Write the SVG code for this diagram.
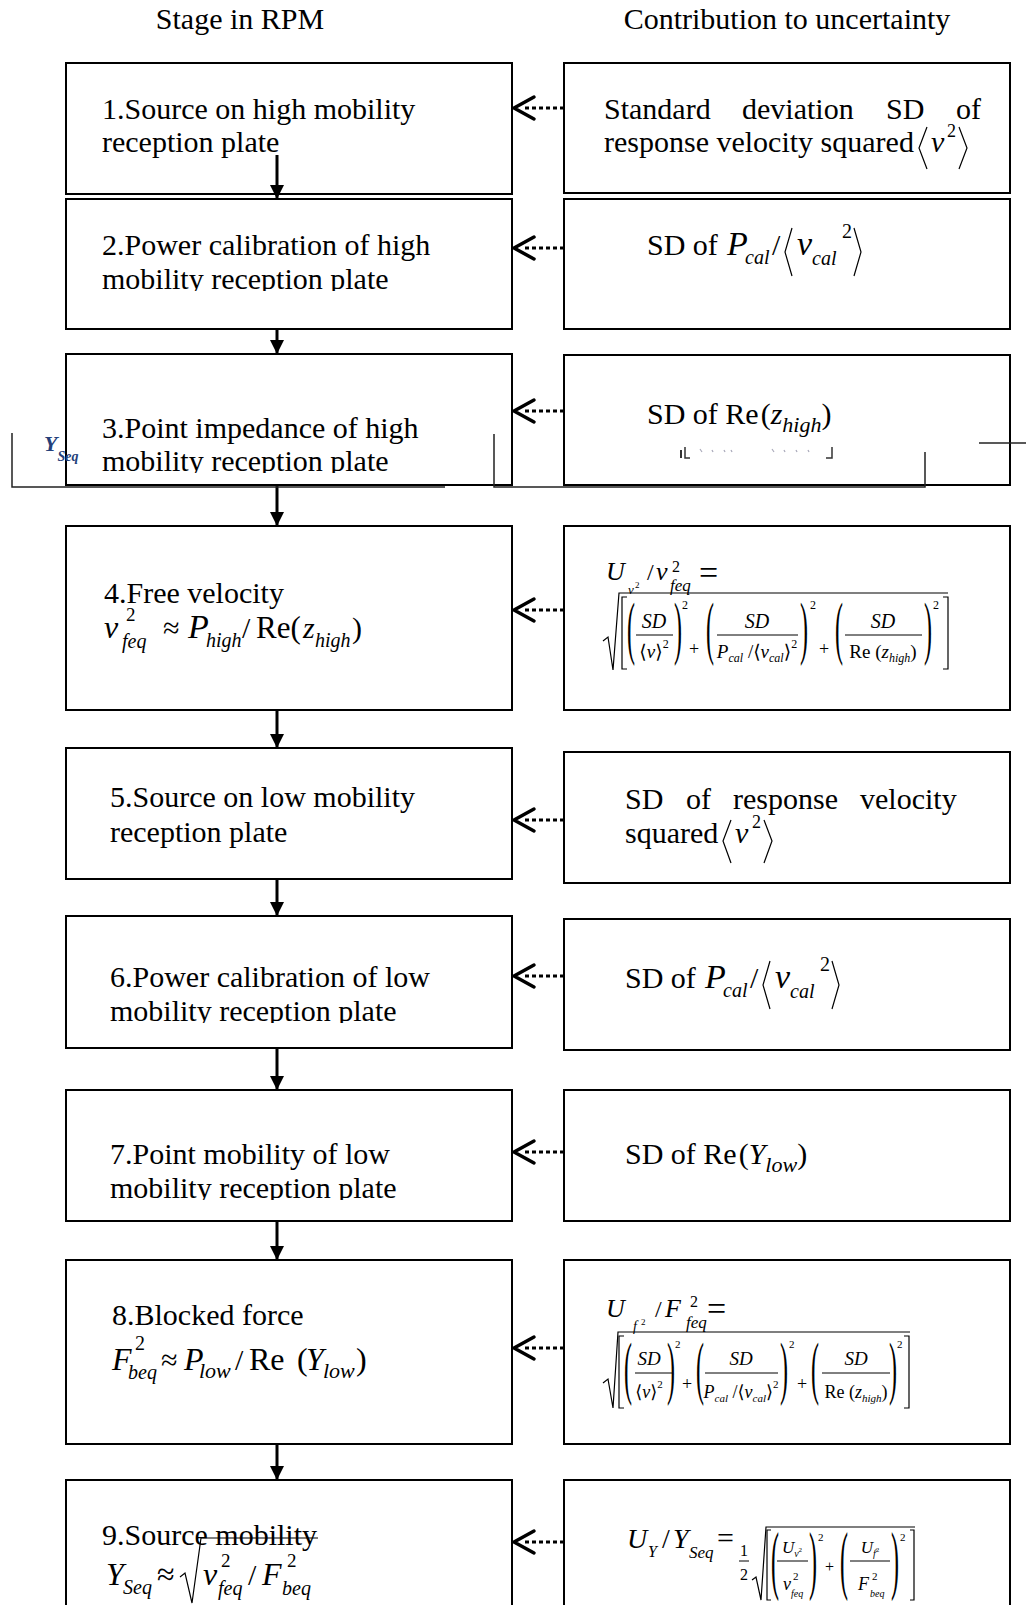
<svg xmlns="http://www.w3.org/2000/svg" width="1026" height="1605" viewBox="0 0 1026 1605">
<defs>
<style>
.box{fill:#fff;stroke:#000;stroke-width:2}
.t{font-family:"Liberation Serif","Times New Roman",serif;fill:#000}
.i{font-style:italic}
.ab{font-family:"DejaVu Serif","DejaVu Sans",serif;font-style:normal}
.d{fill:none;stroke:#000;stroke-width:1.2}
.fl{stroke:#000;stroke-width:1}
.v{stroke:#000;stroke-width:3;marker-end:url(#ah)}
.dot{stroke:#000;stroke-width:3;stroke-dasharray:4 3;marker-end:url(#chev)}
.art{fill:none;stroke:#222;stroke-width:1.5}
</style>
<marker id="ah" markerUnits="userSpaceOnUse" markerWidth="16" markerHeight="14" refX="14" refY="7" orient="auto"><path d="M0,0 L14,7 L0,14 z" fill="#000"/></marker>
<marker id="chev" markerUnits="userSpaceOnUse" markerWidth="30" markerHeight="30" refX="12" refY="15" orient="auto" overflow="visible"><path d="M0,4 L20,15 L0,26" fill="none" stroke="#000" stroke-width="3.5" stroke-linecap="round" stroke-linejoin="round"/></marker>
<clipPath id="c2"><rect x="60" y="262" width="460" height="29"/></clipPath>
<clipPath id="c3"><rect x="60" y="444" width="460" height="29"/></clipPath>
<clipPath id="c6"><rect x="60" y="994" width="460" height="29"/></clipPath>
<clipPath id="c7"><rect x="60" y="1171" width="460" height="29"/></clipPath>
<clipPath id="cy"><rect x="0" y="420" width="82" height="60"/></clipPath>
</defs>
<rect width="1026" height="1605" fill="#fff"/>

<g id="headers">
<text class="t" x="240" y="29" text-anchor="middle" font-size="30">Stage in RPM</text>
<text class="t" x="787" y="29" text-anchor="middle" font-size="30">Contribution to uncertainty</text>
</g>

<g id="stage1"><rect class="box" x="66" y="63" width="446" height="131"/>
<text class="t" x="102" y="119" font-size="30">1.Source on high mobility</text>
<text class="t" x="102" y="152" font-size="30">reception plate</text></g>

<g id="stage2"><rect class="box" x="66" y="199" width="446" height="130"/>
<text class="t" x="102" y="255" font-size="30">2.Power calibration of high</text>
<text class="t" x="102" y="289" font-size="30" clip-path="url(#c2)">mobility reception plate</text></g>

<g id="stage3"><rect class="box" x="66" y="354" width="446" height="131"/>
<text class="t" x="102" y="438" font-size="30">3.Point impedance of high</text>
<text class="t" x="102" y="471" font-size="30" clip-path="url(#c3)">mobility reception plate</text></g>

<g id="stage4"><rect class="box" x="66" y="526" width="446" height="184"/>
<text class="t" x="104" y="603" font-size="30">4.Free velocity</text>
<text class="t i" x="104" y="638" font-size="32">v</text>
<text class="t" x="126" y="621" font-size="19">2</text>
<text class="t i" x="122" y="648" font-size="20">feq</text>
<text class="t" x="163" y="638" font-size="30">≈</text>
<text class="t i" x="188" y="638" font-size="34">P</text>
<text class="t i" x="206" y="647" font-size="20">high</text>
<text class="t" x="242" y="638" font-size="30">/</text>
<text class="t" x="256" y="638" font-size="31">Re(</text>
<text class="t i" x="303" y="638" font-size="30">z</text>
<text class="t i" x="315" y="647" font-size="20">high</text>
<text class="t" x="352" y="638" font-size="30">)</text></g>

<g id="stage5"><rect class="box" x="66" y="748" width="446" height="131"/>
<text class="t" x="110" y="807" font-size="30">5.Source on low mobility</text>
<text class="t" x="110" y="842" font-size="30">reception plate</text></g>

<g id="stage6"><rect class="box" x="66" y="916" width="446" height="132"/>
<text class="t" x="110" y="987" font-size="30">6.Power calibration of low</text>
<text class="t" x="110" y="1021" font-size="30" clip-path="url(#c6)">mobility reception plate</text></g>

<g id="stage7"><rect class="box" x="66" y="1090" width="446" height="131"/>
<text class="t" x="110" y="1164" font-size="30">7.Point mobility of low</text>
<text class="t" x="110" y="1198" font-size="30" clip-path="url(#c7)">mobility reception plate</text></g>

<g id="stage8"><rect class="box" x="66" y="1260" width="446" height="184"/>
<text class="t" x="112" y="1325" font-size="30">8.Blocked force</text>
<text class="t i" x="112" y="1370" font-size="32">F</text>
<text class="t" x="135" y="1350" font-size="20">2</text>
<text class="t i" x="128" y="1379" font-size="20">beq</text>
<text class="t" x="161" y="1370" font-size="30">≈</text>
<text class="t i" x="184" y="1370" font-size="32">P</text>
<text class="t i" x="199" y="1378" font-size="22">low</text>
<text class="t" x="235" y="1370" font-size="30">/</text>
<text class="t" x="249" y="1370" font-size="32">Re</text>
<text class="t" x="297" y="1370" font-size="32">(</text>
<text class="t i" x="306" y="1370" font-size="32">Y</text>
<text class="t i" x="323" y="1378" font-size="22">low</text>
<text class="t" x="356" y="1370" font-size="32">)</text></g>

<g id="stage9"><rect class="box" x="66" y="1480" width="446" height="150"/>
<text class="t" x="102" y="1545" font-size="30">9.Source mobility</text>
<text class="t i" x="106" y="1585" font-size="32">Y</text>
<text class="t i" x="123" y="1594" font-size="20">Seq</text>
<text class="t" x="157" y="1585" font-size="32">≈</text>
<polyline class="d" points="180,1577 185,1573 192,1603 201,1538 318,1538"/>
<text class="t i" x="203" y="1585" font-size="32">v</text>
<text class="t" x="221" y="1567" font-size="19">2</text>
<text class="t i" x="218" y="1595" font-size="20">feq</text>
<text class="t" x="248" y="1585" font-size="30">/</text>
<text class="t i" x="262" y="1585" font-size="32">F</text>
<text class="t" x="287" y="1567" font-size="19">2</text>
<text class="t i" x="282" y="1595" font-size="20">beq</text></g>

<g id="contrib1"><rect class="box" x="564" y="63" width="446" height="130"/>
<text class="t" y="119" font-size="30"><tspan x="604">Standard</tspan><tspan x="742">deviation</tspan><tspan x="886">SD</tspan><tspan x="956">of</tspan></text>
<text class="t" x="604" y="152" font-size="30">response velocity squared</text>
<polyline class="d" points="927,127 919,148 927,169"/>
<text class="t i" x="931" y="152" font-size="30">v</text>
<text class="t" x="947" y="137" font-size="18">2</text>
<polyline class="d" points="959,127 967,148 959,169"/></g>

<g id="contrib2"><rect class="box" x="564" y="199" width="446" height="130"/>
<text class="t" x="647" y="255" font-size="30">SD of</text>
<text class="t i" x="727" y="255" font-size="34">P</text>
<text class="t i" x="745" y="264" font-size="20">cal</text>
<text class="t" x="772" y="255" font-size="30">/</text>
<polyline class="d" points="792,228 785,252 792,276"/>
<text class="t i" x="797" y="255" font-size="34">v</text>
<text class="t i" x="812" y="265" font-size="20">cal</text>
<text class="t" x="842" y="238" font-size="20">2</text>
<polyline class="d" points="854,228 861,252 854,276"/></g>

<g id="contrib3"><rect class="box" x="564" y="355" width="446" height="130"/>
<text class="t" x="647" y="424" font-size="30">SD of Re<tspan dx="2">(</tspan><tspan class="i">z</tspan><tspan class="i" font-size="22" dy="8">high</tspan><tspan dy="-8">)</tspan></text></g>

<g id="contrib4"><rect class="box" x="564" y="526" width="446" height="184"/>
<text class="t i" x="606" y="580" font-size="26">U</text>
<text class="t i" x="628" y="594" font-size="13">v</text>
<text class="t" x="635" y="588" font-size="9">2</text>
<text class="t" x="647" y="580" font-size="24">/</text>
<text class="t i" x="656" y="580" font-size="26">v</text>
<text class="t" x="672" y="572" font-size="16">2</text>
<text class="t i" x="670" y="591" font-size="17">feq</text>
<text class="t" x="699" y="584" font-size="34">=</text>
<polyline class="d" points="603,641 608,637 613,670 619,593 948,593"/>
<polyline class="d" points="627,597 622,597 622,669 627,669"/>
<polyline class="d" points="943,597 948,597 948,669 943,669"/>
<text class="t" font-size="24" transform="translate(627,650.5) scale(1,2.94)">(</text>
<text class="t i" x="654" y="628" font-size="20" text-anchor="middle">SD</text>
<line class="fl" x1="636" y1="635" x2="673" y2="635"/>
<text class="t" x="654" y="658" font-size="19" text-anchor="middle"><tspan class="ab">⟨</tspan><tspan class="i">v</tspan><tspan class="ab">⟩</tspan><tspan font-size="12" dy="-10">2</tspan></text>
<text class="t" font-size="24" transform="translate(674,650.5) scale(1,2.94)">)</text>
<text class="t" x="682" y="609" font-size="12">2</text>
<text class="t" x="689" y="655" font-size="18">+</text>
<text class="t" font-size="24" transform="translate(706,650.5) scale(1,2.94)">(</text>
<text class="t i" x="757" y="628" font-size="20" text-anchor="middle">SD</text>
<line class="fl" x1="717" y1="635" x2="798" y2="635"/>
<text class="t" x="757" y="658" font-size="19" text-anchor="middle"><tspan class="i">P</tspan><tspan class="i" font-size="12" dy="4">cal</tspan><tspan dy="-4"> /</tspan><tspan class="ab">⟨</tspan><tspan class="i">v</tspan><tspan class="i" font-size="12" dy="4">cal</tspan><tspan class="ab" dy="-4">⟩</tspan><tspan font-size="12" dy="-10">2</tspan></text>
<text class="t" font-size="24" transform="translate(800,650.5) scale(1,2.94)">)</text>
<text class="t" x="810" y="609" font-size="12">2</text>
<text class="t" x="819" y="655" font-size="18">+</text>
<text class="t" font-size="24" transform="translate(835,650.5) scale(1,2.94)">(</text>
<text class="t i" x="883" y="628" font-size="20" text-anchor="middle">SD</text>
<line class="fl" x1="845" y1="635" x2="922" y2="635"/>
<text class="t" x="883" y="658" font-size="19" text-anchor="middle">Re (<tspan class="i">z</tspan><tspan class="i" font-size="12" dy="4">high</tspan><tspan dy="-4">)</tspan></text>
<text class="t" font-size="24" transform="translate(924,650.5) scale(1,2.94)">)</text>
<text class="t" x="933" y="609" font-size="12">2</text></g>

<g id="contrib5"><rect class="box" x="564" y="752" width="446" height="131"/>
<text class="t" y="809" font-size="30"><tspan x="625">SD</tspan><tspan x="686">of</tspan><tspan x="733">response</tspan><tspan x="860">velocity</tspan></text>
<text class="t" x="625" y="843" font-size="30">squared</text>
<polyline class="d" points="731,820 723,841 731,863"/>
<text class="t i" x="735" y="843" font-size="30">v</text>
<text class="t" x="752" y="828" font-size="18">2</text>
<polyline class="d" points="764,820 772,841 764,863"/></g>

<g id="contrib6"><rect class="box" x="564" y="919" width="446" height="131"/>
<g transform="translate(-22,733)">
<text class="t" x="647" y="255" font-size="30">SD of</text>
<text class="t i" x="727" y="255" font-size="34">P</text>
<text class="t i" x="745" y="264" font-size="20">cal</text>
<text class="t" x="772" y="255" font-size="30">/</text>
<polyline class="d" points="792,228 785,252 792,276"/>
<text class="t i" x="797" y="255" font-size="34">v</text>
<text class="t i" x="812" y="265" font-size="20">cal</text>
<text class="t" x="842" y="238" font-size="20">2</text>
<polyline class="d" points="854,228 861,252 854,276"/></g></g>

<g id="contrib7"><rect class="box" x="564" y="1090" width="446" height="131"/>
<text class="t" x="625" y="1164" font-size="30">SD of Re<tspan dx="2">(</tspan><tspan class="i">Y</tspan><tspan class="i" font-size="22" dy="8">low</tspan><tspan dy="-8">)</tspan></text></g>

<g id="contrib8"><rect class="box" x="564" y="1260" width="446" height="184"/>
<text class="t i" x="606" y="1317" font-size="26">U</text>
<text class="t i" x="633" y="1331" font-size="14">f</text>
<text class="t" x="641" y="1325" font-size="9">2</text>
<text class="t" x="655" y="1317" font-size="24">/</text>
<text class="t i" x="665" y="1317" font-size="26">F</text>
<text class="t" x="690" y="1307" font-size="16">2</text>
<text class="t i" x="686" y="1328" font-size="17">feq</text>
<text class="t" x="707" y="1320" font-size="34">=</text>
<polyline class="d" points="603,1383 608,1379 613,1408 618,1332 910,1332"/>
<polyline class="d" points="624,1336 619,1336 619,1408 624,1408"/>
<polyline class="d" points="904,1336 909,1336 909,1408 904,1408"/>
<text class="t" font-size="24" transform="translate(624,1390.5) scale(1,2.94)">(</text>
<text class="t i" x="649" y="1365" font-size="19" text-anchor="middle">SD</text>
<line class="fl" x1="635" y1="1373" x2="672" y2="1373"/>
<text class="t" x="649" y="1398" font-size="18" text-anchor="middle"><tspan class="ab">⟨</tspan><tspan class="i">v</tspan><tspan class="ab">⟩</tspan><tspan font-size="11" dy="-10">2</tspan></text>
<text class="t" font-size="24" transform="translate(667,1390.5) scale(1,2.94)">)</text>
<text class="t" x="675" y="1348" font-size="11">2</text>
<text class="t" x="682" y="1390" font-size="18">+</text>
<text class="t" font-size="24" transform="translate(696,1390.5) scale(1,2.94)">(</text>
<text class="t i" x="741" y="1365" font-size="19" text-anchor="middle">SD</text>
<line class="fl" x1="705" y1="1373" x2="778" y2="1373"/>
<text class="t" x="741" y="1398" font-size="18" text-anchor="middle"><tspan class="i">P</tspan><tspan class="i" font-size="11" dy="4">cal</tspan><tspan dy="-4"> /</tspan><tspan class="ab">⟨</tspan><tspan class="i">v</tspan><tspan class="i" font-size="11" dy="4">cal</tspan><tspan class="ab" dy="-4">⟩</tspan><tspan font-size="11" dy="-10">2</tspan></text>
<text class="t" font-size="24" transform="translate(780,1390.5) scale(1,2.94)">)</text>
<text class="t" x="789" y="1348" font-size="11">2</text>
<text class="t" x="797" y="1390" font-size="18">+</text>
<text class="t" font-size="24" transform="translate(811,1390.5) scale(1,2.94)">(</text>
<text class="t i" x="856" y="1365" font-size="19" text-anchor="middle">SD</text>
<line class="fl" x1="822" y1="1373" x2="890" y2="1373"/>
<text class="t" x="856" y="1398" font-size="18" text-anchor="middle">Re (<tspan class="i">z</tspan><tspan class="i" font-size="11" dy="4">high</tspan><tspan dy="-4">)</tspan></text>
<text class="t" font-size="24" transform="translate(889,1390.5) scale(1,2.94)">)</text>
<text class="t" x="897" y="1348" font-size="11">2</text></g>

<g id="contrib9"><rect class="box" x="564" y="1480" width="446" height="150"/>
<text class="t i" x="627" y="1548" font-size="28">U</text>
<text class="t i" x="648" y="1557" font-size="16">Y</text>
<text class="t" x="662" y="1548" font-size="28">/</text>
<text class="t i" x="673" y="1548" font-size="28">Y</text>
<text class="t i" x="689" y="1558" font-size="17">Seq</text>
<text class="t" x="717" y="1548" font-size="30">=</text>
<text class="t" x="740" y="1556" font-size="16">1</text>
<line class="fl" x1="739" y1="1561" x2="749" y2="1561"/>
<text class="t" x="740" y="1580" font-size="16">2</text>
<polyline class="d" points="752,1580 756,1577 761,1600 766,1527 915,1527"/>
<polyline class="d" points="771,1530 767,1530 767,1600 771,1600"/>
<polyline class="d" points="910,1530 914,1530 914,1600 910,1600"/>
<text class="t" font-size="24" transform="translate(771,1584.7) scale(1,3.14)">(</text>
<text class="t" x="792" y="1553" font-size="17" text-anchor="middle"><tspan class="i">U</tspan><tspan class="i" font-size="10" dy="4">v</tspan><tspan font-size="7" dy="-5">2</tspan></text>
<line class="fl" x1="777" y1="1561" x2="808" y2="1561"/>
<text class="t i" x="783" y="1590" font-size="18">v</text>
<text class="t" x="793" y="1580" font-size="11">2</text>
<text class="t i" x="791" y="1597" font-size="10">feq</text>
<text class="t" font-size="24" transform="translate(809,1584.7) scale(1,3.14)">)</text>
<text class="t" x="818" y="1541" font-size="11">2</text>
<text class="t" x="825" y="1572" font-size="16">+</text>
<text class="t" font-size="24" transform="translate(840,1584.7) scale(1,3.14)">(</text>
<text class="t" x="870" y="1553" font-size="17" text-anchor="middle"><tspan class="i">U</tspan><tspan class="i" font-size="10" dy="4">f</tspan><tspan font-size="7" dy="-5">2</tspan></text>
<line class="fl" x1="850" y1="1561" x2="890" y2="1561"/>
<text class="t i" x="858" y="1590" font-size="18">F</text>
<text class="t" x="872" y="1580" font-size="11">2</text>
<text class="t i" x="870" y="1597" font-size="10">beq</text>
<text class="t" font-size="24" transform="translate(891,1584.7) scale(1,3.14)">)</text>
<text class="t" x="900" y="1541" font-size="11">2</text></g>

<g id="connectors">
<line class="v" x1="277" y1="155" x2="277" y2="199"/>
<line class="v" x1="277" y1="329" x2="277" y2="354"/>
<line class="v" x1="277" y1="485" x2="277" y2="526"/>
<line class="v" x1="277" y1="710" x2="277" y2="748"/>
<line class="v" x1="277" y1="879" x2="277" y2="916"/>
<line class="v" x1="277" y1="1048" x2="277" y2="1090"/>
<line class="v" x1="277" y1="1221" x2="277" y2="1260"/>
<line class="v" x1="277" y1="1444" x2="277" y2="1480"/>
<line class="dot" x1="564" y1="108" x2="522" y2="108"/>
<line class="dot" x1="564" y1="248" x2="522" y2="248"/>
<line class="dot" x1="564" y1="411" x2="522" y2="411"/>
<line class="dot" x1="564" y1="610" x2="522" y2="610"/>
<line class="dot" x1="564" y1="820" x2="522" y2="820"/>
<line class="dot" x1="564" y1="976" x2="522" y2="976"/>
<line class="dot" x1="564" y1="1152" x2="522" y2="1152"/>
<line class="dot" x1="564" y1="1348" x2="522" y2="1348"/>
<line class="dot" x1="564" y1="1542" x2="522" y2="1542"/>
</g>

<g id="artifacts">
<text x="44" y="451" clip-path="url(#cy)" font-family="Liberation Serif,serif" font-style="italic" font-weight="bold" font-size="22" fill="#24407a">Y<tspan font-size="14" dy="10">Seq</tspan></text>
<polyline class="art" points="12,433 12,487 445,487"/>
<polyline class="art" points="494,434 494,487 925,487 925,452"/>
<line class="art" x1="979" y1="443" x2="1026" y2="443"/>
<line x1="681" y1="450" x2="681" y2="458" stroke="#333" stroke-width="2"/>
<polyline points="685,447 685,458 690,458" fill="none" stroke="#333" stroke-width="1.5"/>
<polyline points="832,447 832,458 826,458" fill="none" stroke="#333" stroke-width="1.5"/>
<g stroke="#aab" stroke-width="1.2">
<line x1="700" y1="449" x2="702" y2="452"/><line x1="712" y1="450" x2="713" y2="452"/><line x1="724" y1="450" x2="725" y2="452"/><line x1="731" y1="450" x2="732" y2="452"/>
<line x1="772" y1="449" x2="774" y2="452"/><line x1="784" y1="450" x2="785" y2="452"/><line x1="796" y1="450" x2="797" y2="452"/><line x1="808" y1="450" x2="809" y2="452"/>
</g>
</g>
</svg>
